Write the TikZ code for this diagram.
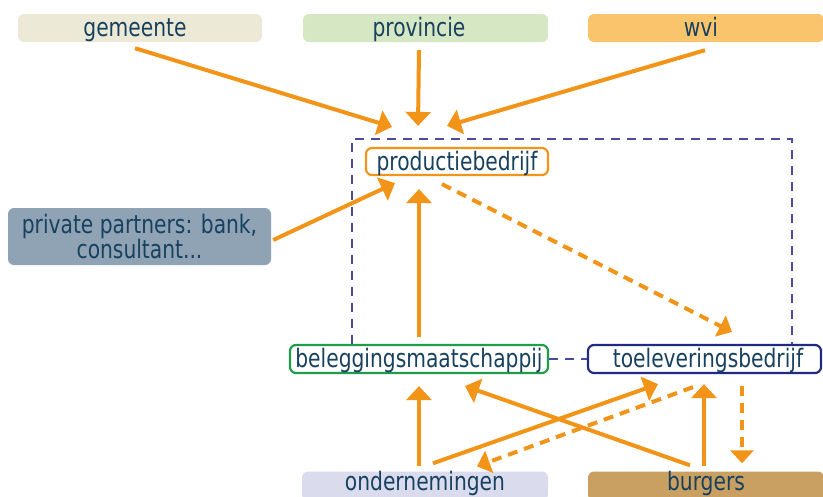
\documentclass[tikz,border=0pt]{standalone}
\usepackage{graphicx}
\usepackage{fontspec}
\setmainfont{DejaVu Sans Condensed}
\usetikzlibrary{arrows.meta,calc}
\newcommand{\vst}[1]{\scalebox{1}[1.13]{#1}}
\definecolor{txt}{HTML}{17415F}
\definecolor{orng}{HTML}{F29418}
\definecolor{frame}{HTML}{4A4A9C}
\definecolor{cgem}{HTML}{EDE9D7}
\definecolor{cprov}{HTML}{D6E8C3}
\definecolor{cwvi}{HTML}{F9C46B}
\definecolor{cpriv}{HTML}{8FA3B5}
\definecolor{cond}{HTML}{DADCEE}
\definecolor{cburg}{HTML}{C9A061}
\definecolor{cgreen}{HTML}{1E9E4A}
\definecolor{cnavy}{HTML}{1F2A80}
\tikzset{
  box/.style={rounded corners=6pt, minimum height=28pt, inner sep=0pt,
    text=txt, font=\fontsize{22.5}{25}\selectfont, text height=19pt, text depth=2pt},
  fillbox/.style={box, fill=#1},
  linebox/.style={box, draw=#1, line width=2.2pt, fill=white},
  lowbox/.style={fillbox=#1, text depth=10pt},
  arr/.style={orng, line width=4pt, -{Triangle[length=14pt,width=25pt]}},
  darr/.style={orng, line width=4pt, dash pattern=on 10pt off 7pt, -{Triangle[length=13pt,width=23pt]}},
  framed/.style={frame, line width=1.8pt, dash pattern=on 9pt off 7pt}
}
\begin{document}
\begin{tikzpicture}[x=1pt,y=-1pt]
\useasboundingbox (0,0) rectangle (823,496);
\fill[white] (0,0) rectangle (823,496);
% top sources
\node[fillbox=cgem, minimum width=244pt] (gem) at (140,28) {\hspace*{-10pt}\vst{gemeente}};
\node[fillbox=cprov, minimum width=245pt] (prov) at (425.5,28) {\hspace*{-13pt}\vst{provincie}};
\node[fillbox=cwvi, minimum width=236pt] (wvi) at (706,28) {\hspace*{-10pt}\vst{wvi}};
% private partners
\node[fillbox=cpriv, minimum width=263pt, minimum height=57pt, align=center,
      text height=, text depth=] (priv) at (139.5,236.5)
      {\vst{private partners: bank,}\\\vst{consultant...}};
% framed group
\node[linebox=orng, minimum width=182pt, minimum height=27pt] (prod) at (457,161.5) {\vst{productiebedrijf}};
\node[linebox=cgreen, minimum width=258pt] (beleg) at (419,359) {\vst{beleggingsmaatschappij}};
\node[linebox=cnavy, minimum width=233pt] (toel) at (704.5,359) {\hspace*{7pt}\vst{toeleveringsbedrijf}};
% bottom sources
\node[lowbox=cond, minimum width=246pt] (ond) at (425,486) {\vst{ondernemingen}};
\node[lowbox=cburg, minimum width=236pt] (burg) at (706,486) {\vst{burgers}};
% dashed frame
\draw[framed] ($(beleg.north)+(-67,0)$) -- (352,139) -- (792,139) -- ($(toel.north)+(87.5,0)$);
\draw[framed] (beleg.east) -- (toel.west);
% arrows
\draw[arr] ($(gem.south)+(-5,6)$) -- ($(prod.north)+(-65,-20)$);
\draw[arr] ($(prov.south)+(-6.5,8)$) -- ($(prod.north)+(-39,-21)$);
\draw[arr] ($(wvi.south)+(-1,8)$) -- ($(prod.north)+(-10,-21)$);
\draw[arr] ($(priv.east)+(2,3.5)$) -- ($(prod.south)+(-62,7)$);
\draw[arr] ($(beleg.north)+(0,-7)$) -- ($(prod.south)+(-38,13)$);
\draw[darr] ($(prod.south)+(-15,8)$) -- ($(toel.north)+(27.5,-12)$);
\draw[arr] ($(ond.north)+(-6,-5)$) -- ($(beleg.south)+(0,12)$);
\draw[arr] ($(burg.north)+(-16,-6)$) -- ($(beleg.south)+(46,12)$);
\draw[arr] ($(ond.north)+(8,-8)$) -- ($(toel.south)+(-46.5,10)$);
\draw[darr] ($(toel.south)+(-11.5,13)$) -- ($(ond.north)+(52,-5)$);
\draw[arr] ($(burg.north)+(-2,-5)$) -- ($(toel.south)+(-0.5,10)$);
\draw[darr] ($(toel.south)+(37.5,12)$) -- ($(burg.north)+(36,-8)$);
\end{tikzpicture}
\end{document}
